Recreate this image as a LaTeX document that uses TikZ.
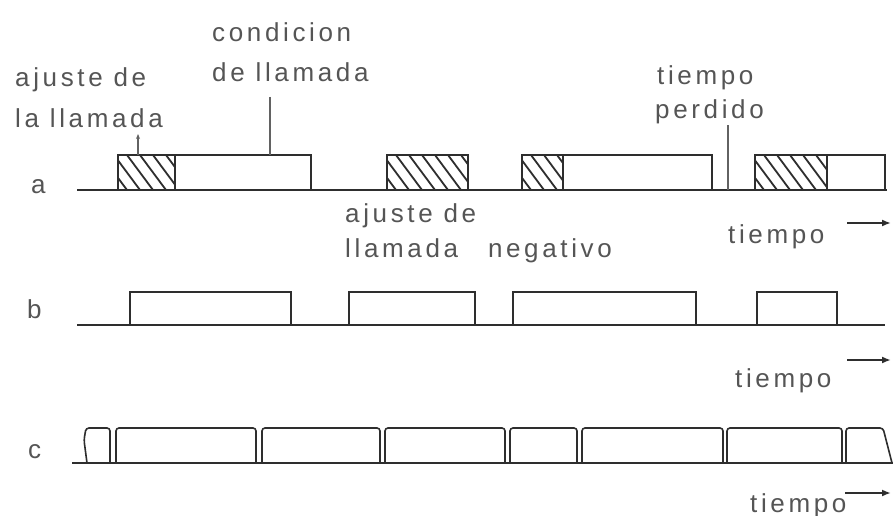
\documentclass[tikz,border=0pt]{standalone}
\usepackage{fontspec}
\setmainfont{Liberation Sans}
\newfontfamily\lbl[LetterSpace=14]{Liberation Sans}
\usetikzlibrary{arrows.meta}
\definecolor{ink}{HTML}{2E2E2E}
\definecolor{txt}{HTML}{555555}
\tikzset{
  sig/.style={draw=ink,line width=1.6pt,line join=miter},
  csig/.style={sig,rounded corners=3pt},
  lab/.style={font=\lbl\fontsize{26}{26}\selectfont,text=txt,inner sep=0pt,anchor=base west},
  hline/.style={draw=ink,line width=1.8pt},
  lead/.style={draw=ink!75,line width=1.1pt},
  tarrow/.style={draw=ink,line width=1.8pt,-{Latex[length=9pt,width=7pt]}},
}
\newcommand\hatchbox[2]{%
  \begin{scope}
    \clip (#1,155) rectangle (#2,190);
    \foreach \hx in {-30,-17,...,#2} {
      \pgfmathsetmacro\hxx{#1+\hx}
      \ifdim\hxx pt<#2pt \draw[hline] (\hxx,155) -- ++(26,35);\fi
    }
  \end{scope}}
\begin{document}
\begin{tikzpicture}[x=1pt,y=-1pt]
\useasboundingbox[fill=white] (0,0) rectangle (893,516);
% ---------- row a ----------
\hatchbox{118}{175}
\hatchbox{387}{468}
\hatchbox{522}{563}
\hatchbox{755}{827}
\draw[sig] (77,190) -- (887,190);
\draw[sig] (118,190) |- (311,155) -- (311,190);
\draw[sig] (175,155) -- (175,190);
\draw[sig] (387,190) |- (468,155) -- (468,190);
\draw[sig] (522,190) |- (712,155) -- (712,190);
\draw[sig] (563,155) -- (563,190);
\draw[sig] (755,190) |- (885,155) -- (885,190);
\draw[sig] (827,155) -- (827,190);
\node[lab] (la) at (31,193) {a};
% labels row a
\node[lab] (cond1) at (212,42) {condicion};
\node[lab] (cond2) at (212,82) {de llamada};
\node[lab] (aj1) at (15,87) {ajuste de};
\node[lab] (aj2) at (15,127) {la llamada};
\node[lab] (tp1) at (657,85) {tiempo};
\node[lab] (tp2) at (655,118) {perdido};
\node[lab] (neg1) at (345,222) {ajuste de};
\node[lab] (neg2) at (345,257) {llamada\hspace{30pt}negativo};
\node[lab] (ta) at (728,243) {tiempo};
\coordinate (condtop) at (270,97);
\coordinate (condbot) at (270,155);
\draw[lead] (condtop) -- (condbot);
\coordinate (ajbot) at (138,155);
\coordinate (ajtop) at (138,134);
\draw[lead,-{Stealth[length=5pt,width=4pt]}] (ajbot) -- (ajtop);
\coordinate (tptop) at (728,125);
\coordinate (tpbot) at (728,190);
\draw[lead] (tptop) -- (tpbot);
\coordinate (aas) at (847,223);
\coordinate (aae) at (891,223);
\draw[tarrow] (aas) -- (aae);
% ---------- row b ----------
\draw[sig] (77,325) -- (885,325);
\draw[sig] (130,325) |- (291,292) -- (291,325);
\draw[sig] (349,325) |- (475,292) -- (475,325);
\draw[sig] (513,325) |- (696,292) -- (696,325);
\draw[sig] (757,325) |- (837,292) -- (837,325);
\node[lab] (lb) at (27,318) {b};
\node[lab] (tb) at (735,387) {tiempo};
\coordinate (abs) at (847,360);
\coordinate (abe) at (891,360);
\draw[tarrow] (abs) -- (abe);
% ---------- row c ----------
\draw[sig] (72,463) -- (893,463);
\draw[csig] (87,463) -- (84,440) -- (86,428) -- (110,428) -- (110,463);
\draw[csig] (116,463) -- (116,428) -- (256,428) -- (256,463);
\draw[csig] (262,463) -- (262,428) -- (380,428) -- (380,463);
\draw[csig] (385,463) -- (385,428) -- (505,428) -- (505,463);
\draw[csig] (510,463) -- (510,428) -- (577,428) -- (577,463);
\draw[csig] (582,463) -- (582,428) -- (723,428) -- (723,463);
\draw[csig] (727,463) -- (727,428) -- (842,428) -- (842,463);
\draw[csig] (846,463) -- (846,428) -- (883,428) -- (892,463);
\node[lab] (lc) at (28,458) {c};
\node[lab] (tc) at (750,512) {tiempo};
\coordinate (acs) at (845,493);
\coordinate (ace) at (891,493);
\draw[tarrow] (acs) -- (ace);
\end{tikzpicture}
\end{document}
